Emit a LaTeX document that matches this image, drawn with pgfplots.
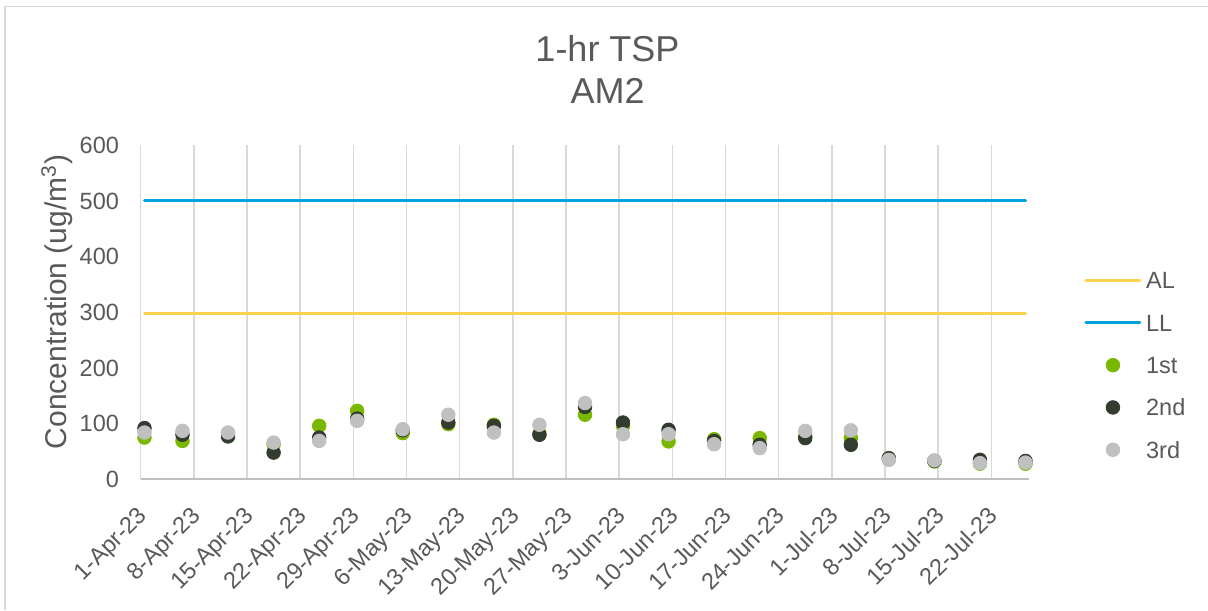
\documentclass[border=0pt]{standalone}
\usepackage{fontspec}
\setmainfont{Liberation Sans}
\usepackage{pgfplots}
\pgfplotsset{compat=1.18}
\definecolor{txt}{HTML}{595959}
\definecolor{gridc}{HTML}{D9D9D9}
\definecolor{axl}{HTML}{BFBFBF}
\definecolor{cA}{HTML}{7AB800}
\definecolor{cB}{HTML}{333D2F}
\definecolor{cC}{HTML}{C0C0C0}
\definecolor{alc}{HTML}{FCD34F}
\definecolor{llc}{HTML}{00A3DC}

\begin{document}
\begin{tikzpicture}
\useasboundingbox (0,0) rectangle (604pt,305pt);
\draw[gridc, line width=0.75pt] (2.5pt,0) -- (2.5pt,301.75pt) -- (604pt,301.75pt);
\begin{axis}[at={(70.35pt,65.35pt)}, anchor=south west,
  scale only axis, width=444.3pt, height=167pt,
  xmin=0, xmax=117, ymin=0, ymax=600,
  clip=false,
  /pgf/number format/assume math mode=true,
  axis x line*=bottom, axis y line*=left,
  x axis line style={-, axl, line width=0.9pt},
  y axis line style={draw=none},
  major tick length=0pt,
  xtick={0,7,...,112},
  xticklabels={1-Apr-23,8-Apr-23,15-Apr-23,22-Apr-23,29-Apr-23,6-May-23,13-May-23,20-May-23,27-May-23,3-Jun-23,10-Jun-23,17-Jun-23,24-Jun-23,1-Jul-23,8-Jul-23,15-Jul-23,22-Jul-23},
  ytick={0,100,...,600},
  xmajorgrids, grid style={gridc, line width=0.75pt},
  tick label style={font=\fontsize{11.75}{14}\selectfont, text=txt},
  xticklabel style={xshift=-2.1pt, yshift=-12.75pt, rotate=45, anchor=north east, inner sep=0pt},
  yticklabel style={anchor=east, inner sep=0pt, xshift=-10.7pt},
  ylabel={Concentration (ug/m\textsuperscript{3})},
  ylabel style={at={(axis description cs:-0.0942,0.531)}, anchor=center, font=\fontsize{15}{18}\selectfont, text=txt},
  legend style={at={(axis description cs:1.0616,0.6596)}, anchor=north west,
    draw=none, fill=none, inner sep=0pt, font=\fontsize{11.75}{14}\selectfont, text=txt,
    column sep=2.35pt, row sep=0pt,
    nodes={inner sep=0pt, text height=14.7pt, text depth=6.45pt}},
  legend cell align=left,
  linelegend/.style={legend image code/.code={\draw[##1] (0pt,0pt) -- (27pt,0pt);}},
  marklegend/.style={legend image code/.code={\draw[##1] plot coordinates {(13.5pt,0pt)};}},
]
\addplot[alc, line width=1.5pt, line cap=round, linelegend] coordinates {(0.5,297) (116.5,297)};
\addlegendentry{AL}
\addplot[llc, line width=1.5pt, line cap=round, linelegend] coordinates {(0.5,500) (116.5,500)};
\addlegendentry{LL}
\addplot[only marks, mark=*, mark size=3.4pt, color=cA, marklegend] coordinates {
(0.5,75) (5.5,69) (11.5,82) (17.5,63) (23.5,96) (28.5,123) (34.5,83) (40.5,99) (46.5,98) (52.5,82) (58.5,116)
(63.5,96) (69.5,68) (75.5,72) (81.5,74) (87.5,78) (93.5,74) (98.5,36) (104.5,32) (110.5,28) (116.5,28)};
\addlegendentry{1st}
\addplot[only marks, mark=*, mark size=3.4pt, color=cB, marklegend] coordinates {
(0.5,92) (5.5,80) (11.5,77) (17.5,48) (23.5,75) (28.5,109) (34.5,88) (40.5,102) (46.5,96) (52.5,80) (58.5,130)
(63.5,102) (69.5,89) (75.5,69) (81.5,62) (87.5,74) (93.5,62) (98.5,38) (104.5,33) (110.5,35) (116.5,33)};
\addlegendentry{2nd}
\addplot[only marks, mark=*, mark size=3.4pt, color=cC, marklegend] coordinates {
(0.5,84) (5.5,87) (11.5,84) (17.5,66) (23.5,69) (28.5,105) (34.5,90) (40.5,116) (46.5,84) (52.5,98) (58.5,137)
(63.5,81) (69.5,81) (75.5,63) (81.5,56) (87.5,87) (93.5,88) (98.5,35) (104.5,34) (110.5,29) (116.5,30)};
\addlegendentry{3rd}
\end{axis}
\node[anchor=base, text=txt, font=\fontsize{18}{22}\selectfont] at (303.75pt,274.15pt) {1-hr TSP};
\node[anchor=base, text=txt, font=\fontsize{18}{22}\selectfont] at (303.75pt,253.35pt) {AM2};
\end{tikzpicture}
\end{document}
